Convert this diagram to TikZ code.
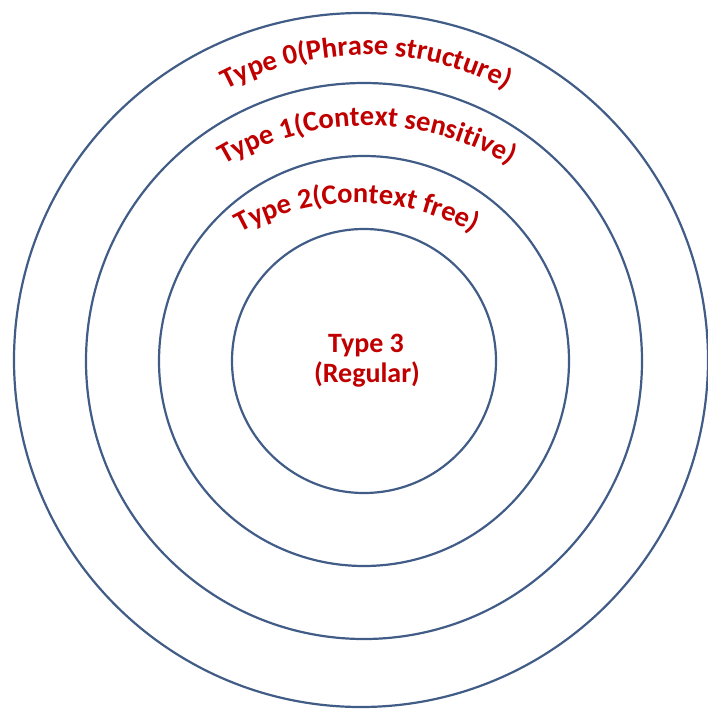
\documentclass[tikz,border=0pt]{standalone}
\usepackage{fontspec}
\setmainfont{Carlito}
\usetikzlibrary{decorations.text,calc}
\definecolor{ringblue}{RGB}{65,92,135}
\definecolor{labelred}{RGB}{192,0,0}
\newcommand{\arcfont}{\color{labelred}\bfseries\fontsize{28.5}{30}\selectfont}
\tikzset{
  ring/.style={draw=ringblue, line width=2.2pt},
  arclabel/.style={decorate, decoration={text along path, text align=center, text={#1}}},
  corelabel/.style={text=labelred, font=\bfseries\fontsize{28}{30}\selectfont, inner sep=0pt, anchor=base}
}
\begin{document}
\begin{tikzpicture}[x=1pt,y=1pt]
\useasboundingbox (0,0) rectangle (708,-712);
\fill[white] (0,0) rectangle (708,-712);
\coordinate (c0) at (361,-360);
\coordinate (c) at (364,-361);
% rings
\draw[ring] (c0) circle[radius=347];
\draw[ring] (c) circle[radius=278];
\draw[ring] (c) circle[radius=205];
\draw[ring] (c) circle[radius=132];
% curved labels
\coordinate (a0) at (366,-355);
\coordinate (a1) at (367,-406);
\coordinate (a2) at (357,-443);
\path[arclabel={|\arcfont|Type 0(Phrase structure)}] ($(a0)+(150:300)$) arc[start angle=150, end angle=30, radius=300];
\path[arclabel={|\arcfont|Type 1(Context sensitive)}] ($(a1)+(150:280)$) arc[start angle=150, end angle=30, radius=280];
\path[arclabel={|\arcfont|Type 2(Context free)}] ($(a2)+(150:240)$) arc[start angle=150, end angle=30, radius=240];
% centre label
\node[corelabel] (t3a) at (366,-352) {Type 3};
\node[corelabel] (t3b) at (367,-382) {(Regular)};
\end{tikzpicture}
\end{document}
